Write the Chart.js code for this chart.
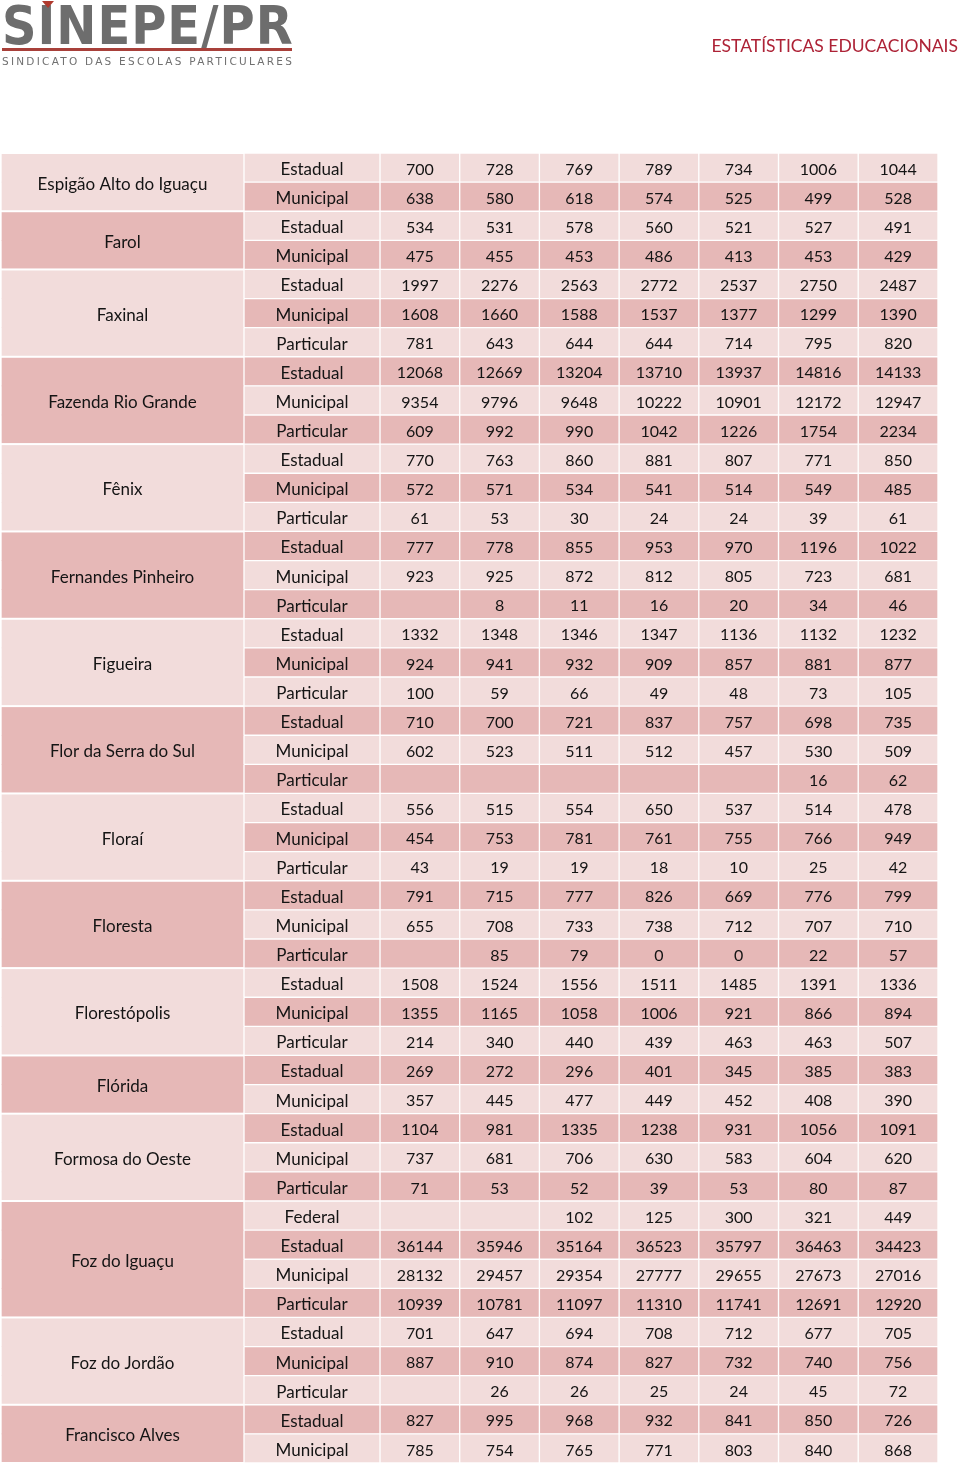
<!DOCTYPE html>
<html lang="pt-BR">
<head>
<meta charset="utf-8">
<title>Estatísticas Educacionais</title>
<script src="https://cdn.jsdelivr.net/npm/chart.js@4.4.1/dist/chart.umd.min.js"></script>
<style>
  body { margin: 0; background: #fff; }
  #page { position: relative; width: 960px; height: 1465px; overflow: hidden; }
  #tabela { position: absolute; left: 0; top: 0; }
  .logo { position: absolute; left: 2px; top: 0; width: 292px; height: 70px; }
  .logo-nome {
    position: absolute; left: 0; top: -5px;
    font-family: "DejaVu Sans", sans-serif; font-weight: bold; font-size: 50px;
    color: #6d6d6d; letter-spacing: 1px; white-space: nowrap;
    transform-origin: left top; transform: scale(0.96, 1.06);
  }
  .logo-acento {
    position: absolute; left: 40px; top: 1px; width: 0; height: 0;
    border-left: 6px solid transparent; border-right: 6px solid transparent;
    border-top: 7px solid #b03a2e;
  }
  .logo-linha { position: absolute; left: 0; top: 48px; width: 290px; height: 3px; background: #a8403a; }
  .logo-sub {
    position: absolute; left: 0; top: 55px;
    font-family: "DejaVu Sans", sans-serif; font-size: 10.5px; color: #707070;
    letter-spacing: 2.25px; white-space: nowrap;
  }
  .titulo {
    position: absolute; right: 2px; top: 35px;
    font-family: Lato, "Open Sans", sans-serif; font-size: 17.5px; color: #ad2236;
    white-space: nowrap;
  }
</style>
</head>
<body>
<div id="page">
  <canvas id="tabela" width="960" height="1465"></canvas>
  <div class="logo">
    <div class="logo-nome">SINEPE/PR</div>
    <div class="logo-acento"></div>
    <div class="logo-linha"></div>
    <div class="logo-sub">SINDICATO DAS ESCOLAS PARTICULARES</div>
  </div>
  <div class="titulo">ESTATÍSTICAS EDUCACIONAIS</div>
</div>
<script>
// municípios e redes de ensino (na ordem da tabela)
const cidades = ['Espigão Alto do Iguaçu', 'Farol', 'Faxinal', 'Fazenda Rio Grande', 'Fênix',
    'Fernandes Pinheiro', 'Figueira', 'Flor da Serra do Sul', 'Floraí', 'Floresta',
    'Florestópolis', 'Flórida', 'Formosa do Oeste', 'Foz do Iguaçu', 'Foz do Jordão', 'Francisco Alves'];

const redesPorCidade = [
    ['Estadual', 'Municipal'],
    ['Estadual', 'Municipal'],
    ['Estadual', 'Municipal', 'Particular'],
    ['Estadual', 'Municipal', 'Particular'],
    ['Estadual', 'Municipal', 'Particular'],
    ['Estadual', 'Municipal', 'Particular'],
    ['Estadual', 'Municipal', 'Particular'],
    ['Estadual', 'Municipal', 'Particular'],
    ['Estadual', 'Municipal', 'Particular'],
    ['Estadual', 'Municipal', 'Particular'],
    ['Estadual', 'Municipal', 'Particular'],
    ['Estadual', 'Municipal'],
    ['Estadual', 'Municipal', 'Particular'],
    ['Federal', 'Estadual', 'Municipal', 'Particular'],
    ['Estadual', 'Municipal', 'Particular'],
    ['Estadual', 'Municipal']
];

// matrículas, uma lista por coluna (null = célula vazia)
const col1 = [700, 638, 534, 475, 1997, 1608, 781, 12068, 9354, 609, 770, 572, 61, 777, 923, null, 1332, 924, 100, 710, 602, null, 556, 454, 43, 791, 655, null, 1508, 1355, 214, 269, 357, 1104, 737, 71, null, 36144, 28132, 10939, 701, 887, null, 827, 785];
const col2 = [728, 580, 531, 455, 2276, 1660, 643, 12669, 9796, 992, 763, 571, 53, 778, 925, 8, 1348, 941, 59, 700, 523, null, 515, 753, 19, 715, 708, 85, 1524, 1165, 340, 272, 445, 981, 681, 53, null, 35946, 29457, 10781, 647, 910, 26, 995, 754];
const col3 = [769, 618, 578, 453, 2563, 1588, 644, 13204, 9648, 990, 860, 534, 30, 855, 872, 11, 1346, 932, 66, 721, 511, null, 554, 781, 19, 777, 733, 79, 1556, 1058, 440, 296, 477, 1335, 706, 52, 102, 35164, 29354, 11097, 694, 874, 26, 968, 765];
const col4 = [789, 574, 560, 486, 2772, 1537, 644, 13710, 10222, 1042, 881, 541, 24, 953, 812, 16, 1347, 909, 49, 837, 512, null, 650, 761, 18, 826, 738, 0, 1511, 1006, 439, 401, 449, 1238, 630, 39, 125, 36523, 27777, 11310, 708, 827, 25, 932, 771];
const col5 = [734, 525, 521, 413, 2537, 1377, 714, 13937, 10901, 1226, 807, 514, 24, 970, 805, 20, 1136, 857, 48, 757, 457, null, 537, 755, 10, 669, 712, 0, 1485, 921, 463, 345, 452, 931, 583, 53, 300, 35797, 29655, 11741, 712, 732, 24, 841, 803];
const col6 = [1006, 499, 527, 453, 2750, 1299, 795, 14816, 12172, 1754, 771, 549, 39, 1196, 723, 34, 1132, 881, 73, 698, 530, 16, 514, 766, 25, 776, 707, 22, 1391, 866, 463, 385, 408, 1056, 604, 80, 321, 36463, 27673, 12691, 677, 740, 45, 850, 840];
const col7 = [1044, 528, 491, 429, 2487, 1390, 820, 14133, 12947, 2234, 850, 485, 61, 1022, 681, 46, 1232, 877, 105, 735, 509, 62, 478, 949, 42, 799, 710, 57, 1336, 894, 507, 383, 390, 1091, 620, 87, 449, 34423, 27016, 12920, 705, 756, 72, 726, 868];

// layout: bordas das colunas na escala x (px da página)
const bordasColunas = [1, 244, 380, 459.7, 539.4, 619.1, 698.8, 778.5, 858.2, 938];
const corClara = '#f2dcdb';
const corEscura = '#e6b8b7';

// monta as linhas da tabela a partir das listas acima
const linhas = [];
redesPorCidade.forEach((redes, g) => {
    redes.forEach((rede) => {
        linhas.push({ cidade: g, rede: rede });
    });
});
const rotulosLinhas = linhas.map((l, i) => i + ' ' + cidades[l.cidade] + ' - ' + l.rede);

function faixa(c) {
    return linhas.map(() => [bordasColunas[c], bordasColunas[c + 1]]);
}

const corLinha = linhas.map((l, i) => (i % 2 === 1 ? corEscura : corClara));
const colunasValores = [col1, col2, col3, col4, col5, col6, col7];

const datasets = [
    {
        // coluna dos municípios: sem borda, as divisões entre grupos vêm do plugin
        label: 'Município',
        data: linhas.map(() => [bordasColunas[0] + 1, bordasColunas[1] - 1]),
        backgroundColor: linhas.map(l => (l.cidade % 2 === 1 ? corEscura : corClara)),
        borderWidth: 0,
        textos: null
    },
    {
        label: 'Rede',
        data: faixa(1),
        backgroundColor: corLinha,
        textos: linhas.map(l => l.rede),
        fonte: '17px Lato'
    }
];
colunasValores.forEach((vals, c) => {
    datasets.push({
        label: 'Coluna ' + (c + 1),
        data: faixa(c + 2),
        backgroundColor: corLinha,
        textos: vals.map(v => (v === null ? '' : String(v))),
        fonte: '16px Lato'
    });
});

// divisões entre municípios + textos das células, usando as posições das barras
const textoCelulas = {
    id: 'textoCelulas',
    afterDatasetsDraw(chart) {
        const ctx = chart.ctx;
        const metaCidade = chart.getDatasetMeta(0);
        ctx.save();

        // linhas brancas entre os grupos de cada município
        ctx.fillStyle = '#ffffff';
        let inicio = 0;
        redesPorCidade.forEach((redes) => {
            const a = metaCidade.data[inicio];
            const b = metaCidade.data[inicio + redes.length - 1];
            if (inicio === 0) ctx.fillRect(a.base - 1, a.y - a.height / 2 - 1, a.x - a.base + 2, 2);
            ctx.fillRect(b.base - 1, b.y + b.height / 2 - 1, b.x - b.base + 2, 2);
            inicio += redes.length;
        });

        ctx.fillStyle = '#141414';
        ctx.textAlign = 'center';
        ctx.textBaseline = 'middle';

        // nomes dos municípios, centrados no grupo de linhas
        ctx.font = '17px Lato';
        inicio = 0;
        redesPorCidade.forEach((redes, g) => {
            const a = metaCidade.data[inicio];
            const b = metaCidade.data[inicio + redes.length - 1];
            ctx.fillText(cidades[g], (a.x + a.base) / 2, (a.y + b.y) / 2 + 2);
            inicio += redes.length;
        });

        chart.data.datasets.forEach((ds, di) => {
            if (!ds.textos) return;
            ctx.font = ds.fonte;
            const meta = chart.getDatasetMeta(di);
            meta.data.forEach((bar, i) => {
                const t = ds.textos[i];
                if (!t) return;
                ctx.fillText(t, (bar.x + bar.base) / 2, bar.y + 2);
            });
        });
        ctx.restore();
    }
};

new Chart(document.getElementById('tabela'), {
    type: 'bar',
    data: { labels: rotulosLinhas, datasets: datasets },
    options: {
        responsive: false,
        animation: false,
        events: [],
        indexAxis: 'y',
        layout: { padding: { top: 153, bottom: 2, left: 0, right: 0 } },
        plugins: { legend: { display: false }, tooltip: { enabled: false } },
        datasets: {
            bar: {
                categoryPercentage: 1,
                barPercentage: 1,
                grouped: false,
                borderSkipped: false,
                borderColor: '#ffffff',
                borderWidth: 1
            }
        },
        scales: {
            x: { type: 'linear', min: 0, max: 960, display: false },
            y: { type: 'category', display: false, offset: true }
        }
    },
    plugins: [textoCelulas]
});
</script>
</body>
</html>
